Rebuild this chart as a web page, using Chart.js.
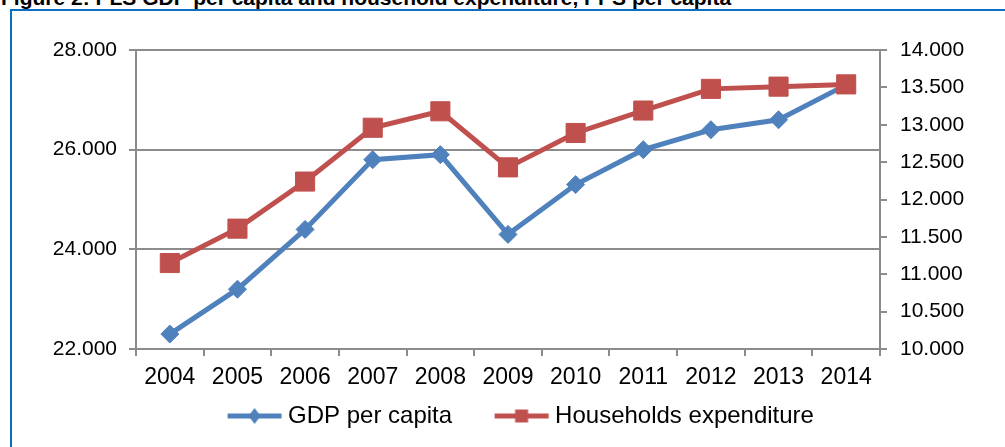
<!DOCTYPE html>
<html>
<head>
<meta charset="utf-8">
<script src="https://cdn.jsdelivr.net/npm/chart.js@4"></script>
<style>
    body { margin: 0; background: #fff; width: 1005px; height: 447px; overflow: hidden; position: relative; font-family: "Liberation Sans", Arial, sans-serif; }
    #title { position: absolute; left: 1px; top: -13px; font-size: 21px; line-height: 21px; font-weight: bold; color: #000; white-space: nowrap; }
    #frame { position: absolute; left: 10px; top: 9px; width: 1100px; height: 500px; border-left: 2px solid #0a6fc2; border-top: 2px solid #0a6fc2; }
    #chart { position: absolute; left: 0; top: 0; }
</style>
</head>
<body>
<div id="title">Figure 2: PLS GDP per capita and household expenditure, PPS per capita</div>
<div id="frame"></div>
<canvas id="chart" width="1005" height="447"></canvas>
<script>
const years = ['2004', '2005', '2006', '2007', '2008', '2009', '2010', '2011', '2012', '2013', '2014'];
const gdpPerCapita = [22300, 23200, 24400, 25800, 25900, 24300, 25300, 26000, 26400, 26600, 27300];
const householdsExpenditure = [11150, 11610, 12240, 12960, 13180, 12430, 12890, 13190, 13480, 13510, 13540];
const seriesNames = ['GDP per capita', 'Households expenditure'];

const blue = '#4f81bd';
const red = '#c0504d';
const axisGray = '#8c8c8c';

// thousands with a dot, like 28.000
function fmt(v) {
    const t = Math.floor(v / 1000);
    const r = String(Math.round(v % 1000)).padStart(3, '0');
    return t + '.' + r;
}

// little line + marker pictures for the legend
function legendIcon(color, shape) {
    const c = document.createElement('canvas');
    c.width = 56;
    c.height = 20;
    const g = c.getContext('2d');
    g.strokeStyle = color;
    g.fillStyle = color;
    g.lineWidth = 5;
    g.beginPath();
    g.moveTo(1, 10);
    g.lineTo(55, 10);
    g.stroke();
    g.beginPath();
    if (shape === 'diamond') {
        g.moveTo(28, 2);
        g.lineTo(34, 10);
        g.lineTo(28, 18);
        g.lineTo(22, 10);
    } else {
        g.rect(21.5, 3.5, 13, 13);
    }
    g.closePath();
    g.fill();
    return c;
}
const legendIcons = [legendIcon(blue, 'diamond'), legendIcon(red, 'square')];

const ctx = document.getElementById('chart').getContext('2d');
new Chart(ctx, {
    type: 'line',
    data: {
        labels: years,
        datasets: [{
            label: seriesNames[0],
            data: gdpPerCapita,
            yAxisID: 'y',
            borderColor: blue,
            backgroundColor: blue,
            borderWidth: 5,
            pointStyle: 'rectRot',
            pointRadius: 9,
            pointHoverRadius: 9,
            pointBorderWidth: 1,
            tension: 0,
            order: 2
        }, {
            label: seriesNames[1],
            data: householdsExpenditure,
            yAxisID: 'y1',
            borderColor: red,
            backgroundColor: red,
            borderWidth: 5,
            pointStyle: 'rect',
            pointRadius: 13.5,
            pointHoverRadius: 13.5,
            pointBorderWidth: 1,
            tension: 0,
            order: 1
        }]
    },
    options: {
        responsive: false,
        animation: false,
        layout: {
            padding: { top: 50, left: 44, right: 2, bottom: 9 }
        },
        plugins: {
            tooltip: { enabled: false },
            legend: {
                position: 'bottom',
                labels: {
                    usePointStyle: true,
                    pointStyleWidth: 43,
                    padding: 12,
                    color: '#000',
                    font: { family: 'Liberation Sans', size: 24 },
                    sort: (a, b) => a.datasetIndex - b.datasetIndex,
                    generateLabels(chart) {
                        const items = Chart.defaults.plugins.legend.labels.generateLabels(chart);
                        items.forEach(it => {
                            it.pointStyle = legendIcons[it.datasetIndex];
                            // wider gap after the first entry
                            if (it.datasetIndex === 0) it.text += '\u2002\u2002\u2002';
                        });
                        return items;
                    }
                }
            }
        },
        scales: {
            x: {
                offset: true,
                afterFit(scale) { scale.height = 43; },
                grid: {
                    offset: true,
                    drawOnChartArea: false,
                    color: axisGray,
                    lineWidth: 2,
                    tickLength: 7
                },
                border: { color: axisGray, width: 2 },
                ticks: {
                    color: '#000',
                    padding: 8,
                    maxRotation: 0,
                    autoSkip: false,
                    font: { family: 'Liberation Sans', size: 23 }
                }
            },
            y: {
                position: 'left',
                min: 22000,
                max: 28000,
                afterFit(scale) { scale.width = 92; },
                grid: {
                    color: axisGray,
                    lineWidth: 2,
                    tickLength: 7
                },
                border: { color: axisGray, width: 2 },
                ticks: {
                    stepSize: 2000,
                    color: '#000',
                    padding: 12,
                    font: { family: 'Liberation Sans', size: 21 },
                    callback: v => fmt(v)
                }
            },
            y1: {
                position: 'right',
                min: 10000,
                max: 14000,
                afterFit(scale) { scale.width = 123; },
                grid: {
                    drawOnChartArea: false,
                    color: axisGray,
                    lineWidth: 2,
                    tickLength: 7
                },
                border: { color: axisGray, width: 2 },
                ticks: {
                    stepSize: 500,
                    color: '#000',
                    padding: 13,
                    font: { family: 'Liberation Sans', size: 21 },
                    callback: v => fmt(v)
                }
            }
        }
    }
});
</script>
</body>
</html>
